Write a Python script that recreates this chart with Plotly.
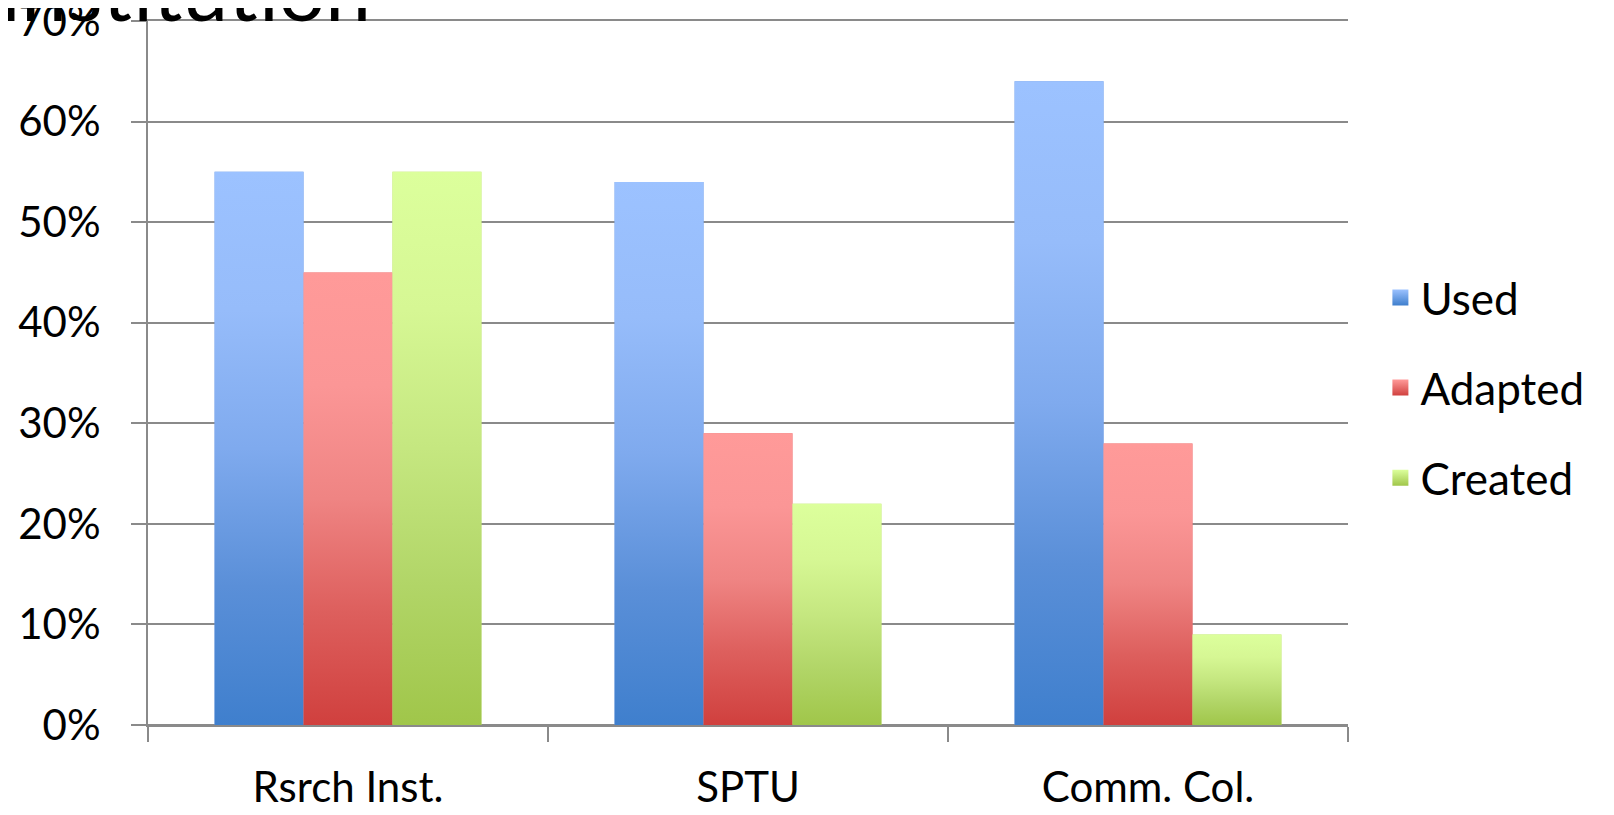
import plotly.graph_objects as go

categories = ["Rsrch Inst.", "SPTU", "Comm. Col."]
series_names = ["Used", "Adapted", "Created"]
used = [0.55, 0.54, 0.64]
adapted = [0.45, 0.29, 0.28]
created = [0.55, 0.22, 0.09]
y_ticks = [0, 0.1, 0.2, 0.3, 0.4, 0.5, 0.6, 0.7]
title_text = "Institution"

values = [used, adapted, created]
solid = ["#6f9be0", "#e4706f", "#bcdc72"]
tops = ["#9CC2FF", "#FF9A99", "#DCFF9C"]
bottoms = ["#3F7FCD", "#D0403E", "#A0C64A"]
scales = [
    [[0, "#3F7FCD"], [0.25, "#5a8fd8"], [0.5, "#7faaee"], [0.75, "#96bcfa"], [1, "#9CC2FF"]],
    [[0, "#D0403E"], [0.25, "#dd5f5d"], [0.5, "#ef8483"], [0.75, "#fb9696"], [1, "#FF9A99"]],
    [[0, "#A0C64A"], [0.25, "#b1d567"], [0.5, "#c5e780"], [0.75, "#d6f794"], [1, "#DCFF9C"]],
]

BARGAP = 0.333
FONT = "Lato, 'Open Sans', sans-serif"
GRID = "#8a8a8a"

fig = go.Figure()
for k, name in enumerate(series_names):
    fig.add_trace(go.Bar(
        x=categories, y=values[k], name=name, legendgroup=name, showlegend=False,
        marker=dict(color=solid[k], line=dict(width=0)),
        hovertemplate="%{x}: %{y:.0%}<extra>" + name + "</extra>",
    ))

# gradient overlays on the same positions as the grouped bars
w = (1 - BARGAP) / len(series_names)
for k, name in enumerate(series_names):
    for i, v in enumerate(values[k]):
        c = i - (1 - BARGAP) / 2 + (k + 0.5) * w
        fig.add_trace(go.Scatter(
            x=[c - w / 2, c - w / 2, c + w / 2, c + w / 2, c - w / 2],
            y=[0, v, v, 0, 0],
            xaxis="x2", yaxis="y", legendgroup=name,
            mode="lines", line=dict(width=0), fill="toself",
            fillgradient=dict(type="vertical", colorscale=scales[k], start=0, stop=v),
            hoverinfo="skip", showlegend=False,
        ))

# legend keys with gradient squares
for k, name in enumerate(series_names):
    fig.add_trace(go.Scatter(
        x=[None], y=[None], xaxis="x2", yaxis="y", name=name, legendgroup=name,
        mode="markers",
        marker=dict(symbol="square", size=16, color=tops[k],
                    gradient=dict(type="vertical", color=bottoms[k]),
                    line=dict(width=0)),
        showlegend=True, hoverinfo="skip",
    ))

fig.update_layout(
    width=1606, height=807,
    margin=dict(l=140, r=266, t=13, b=90, autoexpand=False),
    paper_bgcolor="white", plot_bgcolor="white",
    font=dict(family=FONT, size=42, color="black"),
    barmode="group", bargap=BARGAP, bargroupgap=0,
    showlegend=True,
    legend=dict(
        x=1.027, xanchor="left", y=0.479, yanchor="middle",
        font=dict(size=44), tracegroupgap=30, traceorder="grouped",
        itemsizing="trace",
        bgcolor="rgba(0,0,0,0)",
    ),
    xaxis=dict(
        type="category", range=[-0.5, 2.5], automargin=False,
        showgrid=False, zeroline=False,
        showline=True, linecolor=GRID, linewidth=2, mirror=True,
        ticks="outside", tickson="boundaries", ticklen=15, tickwidth=2, tickcolor=GRID,
        ticklabelstandoff=25,
        tickfont=dict(size=42),
    ),
    xaxis2=dict(
        overlaying="x", anchor="y", range=[-0.5, 2.5], visible=False,
    ),
    yaxis=dict(
        range=[0, 0.7], tickvals=y_ticks, automargin=False,
        tickformat=".0%", ticklabeloverflow="allow",
        showgrid=True, gridcolor=GRID, gridwidth=2,
        zeroline=True, zerolinecolor=GRID, zerolinewidth=2,
        showline=True, linecolor=GRID, linewidth=2,
        ticks="outside", ticklen=15, tickwidth=2, tickcolor=GRID,
        ticklabelstandoff=22,
        tickfont=dict(size=42),
    ),
    annotations=[dict(
        text=title_text, xref="paper", yref="paper",
        x=-0.126, y=1.046, xanchor="left", yanchor="middle",
        showarrow=False, font=dict(size=82, family=FONT, color="black"),
    )],
)

fig.write_html("out.html")
